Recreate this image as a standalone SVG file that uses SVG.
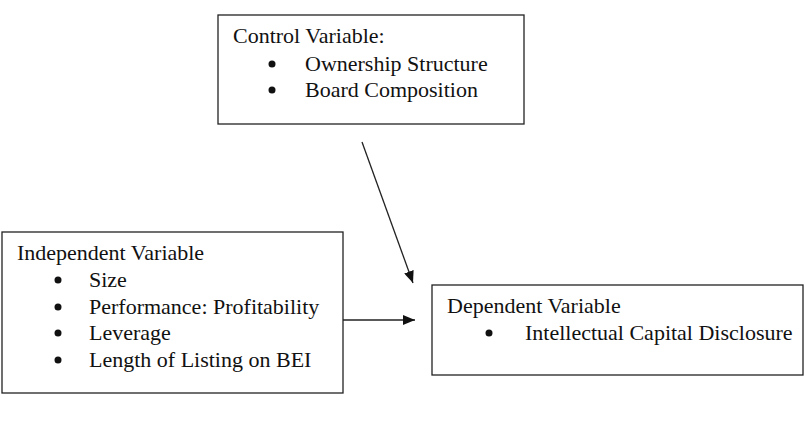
<svg xmlns="http://www.w3.org/2000/svg" width="805" height="428" viewBox="0 0 805 428">
<style>
  .box { fill: #fff; stroke: #222; stroke-width: 1.3; }
  text { font-family: "Liberation Serif", "Times New Roman", serif; font-size: 22px; fill: #111; }
  .conn { stroke: #222; stroke-width: 1.3; fill: none; marker-end: url(#ah); }
  .dot { fill: #111; }
</style>
<defs>
  <marker id="ah" viewBox="0 0 12 10" refX="12" refY="5" markerWidth="12" markerHeight="10" markerUnits="userSpaceOnUse" orient="auto">
    <path d="M0,0 L12,5 L0,10 Z" fill="#111"/>
  </marker>
</defs>
<rect width="805" height="428" fill="#fff"/>
<g id="control">
  <rect class="box" x="218" y="15" width="306" height="109"/>
  <text x="233" y="43">Control Variable:</text>
  <circle class="dot" cx="272" cy="64" r="3.5"/>
  <text x="305" y="71">Ownership Structure</text>
  <circle class="dot" cx="272" cy="90" r="3.5"/>
  <text x="305" y="97">Board Composition</text>
</g>
<g id="independent">
  <rect class="box" x="2" y="232" width="341" height="161"/>
  <text x="17" y="260">Independent Variable</text>
  <circle class="dot" cx="58" cy="280" r="3.5"/>
  <text x="89" y="287">Size</text>
  <circle class="dot" cx="58" cy="307" r="3.5"/>
  <text x="89" y="314">Performance: Profitability</text>
  <circle class="dot" cx="58" cy="333" r="3.5"/>
  <text x="89" y="340">Leverage</text>
  <circle class="dot" cx="58" cy="360" r="3.5"/>
  <text x="89" y="367">Length of Listing on BEI</text>
</g>
<g id="dependent">
  <rect class="box" x="432" y="285" width="371" height="90"/>
  <text x="447" y="313">Dependent Variable</text>
  <circle class="dot" cx="489" cy="333" r="3.5"/>
  <text x="525" y="340">Intellectual Capital Disclosure</text>
</g>
<g id="connectors">
  <line class="conn" x1="362" y1="142" x2="413" y2="283"/>
  <line class="conn" x1="343" y1="320" x2="415" y2="320"/>
</g>
</svg>
